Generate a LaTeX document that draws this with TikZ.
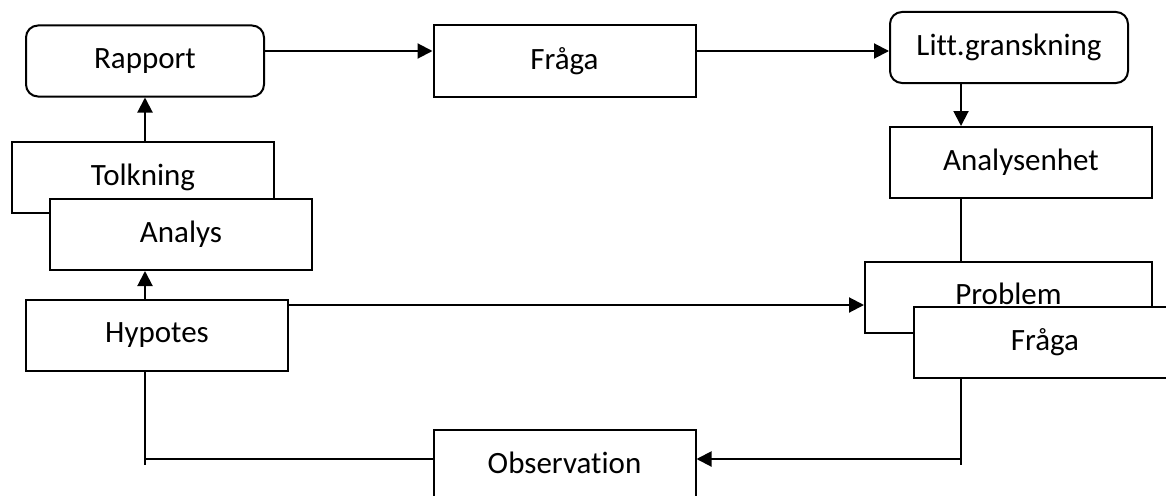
\documentclass[tikz,border=0pt]{standalone}
\usepackage{fontspec}
\setmainfont{Carlito}[Ligatures=NoCommon]
\usetikzlibrary{arrows.meta,calc}
\tikzset{
    block/.style = {draw, rectangle, fill=white, line width=2pt,
        minimum height=71pt,
        minimum width=262pt, inner sep=0pt},
    roundblock/.style = {block, rounded corners=12pt, minimum width=238pt},
    arrow/.style={draw, line width=2pt, -{Triangle[length=15pt,width=15pt]}},
    link/.style={draw, line width=2pt}
}

\begin{document}
\begin{tikzpicture}[x=1pt,y=-1pt,font=\fontsize{31}{37}\selectfont]
                \useasboundingbox (0,0) rectangle (1166,495);
                \clip (0,0) rectangle (1166,495);
                % columns of the vertical links
                \coordinate (lcol) at (145,0);
                \coordinate (rcol) at (961,0);
                % top row
                \node [roundblock] (rapport) at (145,61) {Rapport};
                \node [block] (fraga) at (564.5,61) {Fråga};
                \node [roundblock] (litt) at (1009,47.5) {Litt.granskning};
                % right column
                \node [block] (analysenhet) at (1021,162.5) {Analysenhet};
                \node [block, minimum width=287pt] (problem) at (1008.5,297) {\raisebox{6pt}{Problem}};
                \node [block] (fraga2) at (1045,342) {Fråga};
                % left column
                \node [block] (tolkning) at (143,177.5) {\raisebox{6pt}{Tolkning}};
                \node [block] (analys) at (181,234.5) {Analys};
                \node [block] (hypotes) at (157,335.5) {Hypotes};
                % bottom
                \node [block] (observation) at (564.5,465) {\raisebox{5pt}{Observation}};
                % links
                \draw [arrow] ([yshift=10pt]rapport.east) -- ([yshift=10pt]fraga.west);
                \draw [arrow] ([yshift=10pt]fraga.east) -- ([yshift=10pt]fraga.east -| litt.west);
                \draw [arrow] (litt.south -| rcol) -- (analysenhet.north -| rcol);
                \draw [link] (analysenhet.south -| rcol) -- (problem.north -| rcol);
                \draw [arrow] ([yshift=-8pt]problem.west -| hypotes.east) -- ([yshift=-8pt]problem.west);
                \draw [link] (fraga2.south -| rcol) -- (rcol |- observation.center);
                \draw [arrow] ([yshift=6pt]observation.east -| rcol) -- ([yshift=6pt]observation.east);
                \draw [link] (hypotes.south -| lcol) -- (lcol |- observation.center);
                \draw [link] ([yshift=6pt]observation.west -| lcol) -- ([yshift=6pt]observation.west);
                \draw [arrow] (hypotes.north -| lcol) -- (analys.south -| lcol);
                \draw [arrow] (tolkning.north -| lcol) -- (rapport.south -| lcol);
            \end{tikzpicture}
\end{document}
